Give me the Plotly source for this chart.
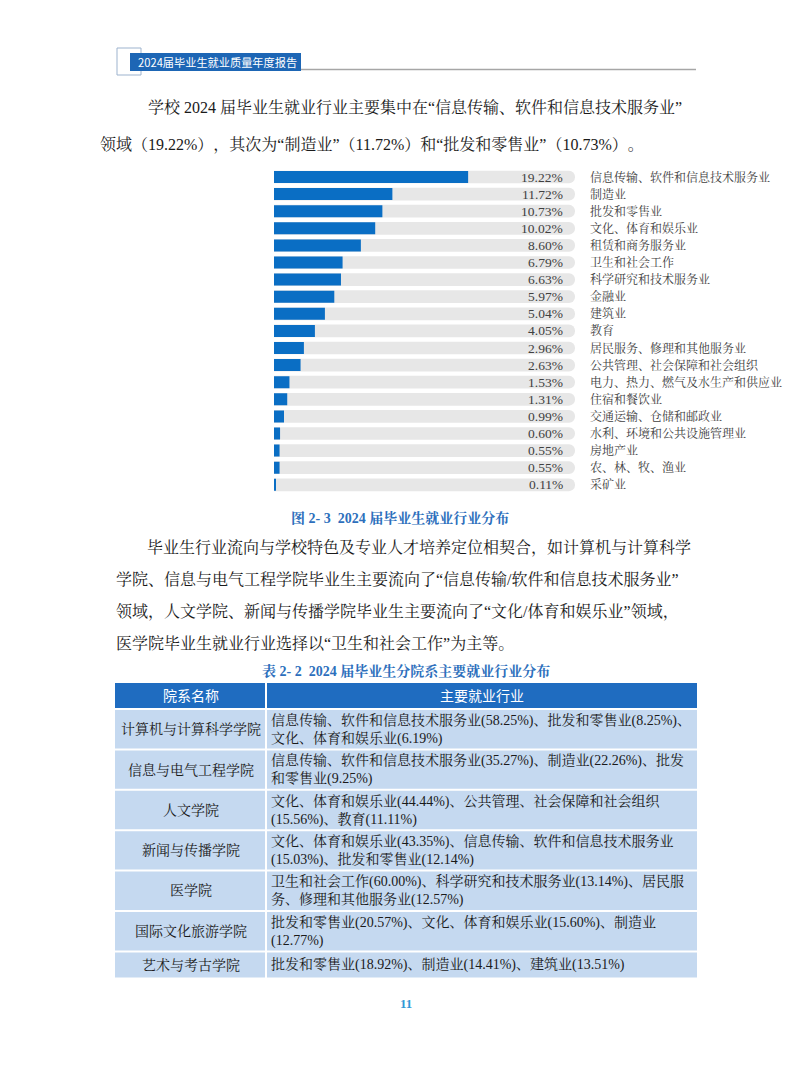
import plotly.graph_objects as go

W, H = 793, 1077

# ---------------- data ----------------
industries = ["信息传输、软件和信息技术服务业", "制造业", "批发和零售业", "文化、体育和娱乐业",
              "租赁和商务服务业", "卫生和社会工作", "科学研究和技术服务业", "金融业", "建筑业",
              "教育", "居民服务、修理和其他服务业", "公共管理、社会保障和社会组织",
              "电力、热力、燃气及水生产和供应业", "住宿和餐饮业", "交通运输、仓储和邮政业",
              "水利、环境和公共设施管理业", "房地产业", "农、林、牧、渔业", "采矿业"]
shares = [19.22, 11.72, 10.73, 10.02, 8.60, 6.79, 6.63, 5.97, 5.04, 4.05,
          2.96, 2.63, 1.53, 1.31, 0.99, 0.60, 0.55, 0.55, 0.11]

header_title = "2024届毕业生就业质量年度报告"
para1 = ["学校 2024 届毕业生就业行业主要集中在“信息传输、软件和信息技术服务业”",
         "领域（19.22%），其次为“制造业”（11.72%）和“批发和零售业”（10.73%）。"]
fig_caption = "图 2- 3  2024 届毕业生就业行业分布"
para2 = ["毕业生行业流向与学校特色及专业人才培养定位相契合，如计算机与计算科学",
         "学院、信息与电气工程学院毕业生主要流向了“信息传输/软件和信息技术服务业”",
         "领域，人文学院、新闻与传播学院毕业生主要流向了“文化/体育和娱乐业”领域，",
         "医学院毕业生就业行业选择以“卫生和社会工作”为主等。"]
table_caption = "表 2- 2  2024 届毕业生分院系主要就业行业分布"
table_header = ["院系名称", "主要就业行业"]
colleges = ["计算机与计算科学学院", "信息与电气工程学院", "人文学院", "新闻与传播学院",
            "医学院", "国际文化旅游学院", "艺术与考古学院"]
college_industries = [
    ["信息传输、软件和信息技术服务业(58.25%)、批发和零售业(8.25%)、", "文化、体育和娱乐业(6.19%)"],
    ["信息传输、软件和信息技术服务业(35.27%)、制造业(22.26%)、批发", "和零售业(9.25%)"],
    ["文化、体育和娱乐业(44.44%)、公共管理、社会保障和社会组织", "(15.56%)、教育(11.11%)"],
    ["文化、体育和娱乐业(43.35%)、信息传输、软件和信息技术服务业", "(15.03%)、批发和零售业(12.14%)"],
    ["卫生和社会工作(60.00%)、科学研究和技术服务业(13.14%)、居民服", "务、修理和其他服务业(12.57%)"],
    ["批发和零售业(20.57%)、文化、体育和娱乐业(15.60%)、制造业", "(12.77%)"],
    ["批发和零售业(18.92%)、制造业(14.41%)、建筑业(13.51%)"],
]
page_number = "11"

# ---------------- styling ----------------
SERIF = "Liberation Serif, Noto Serif CJK SC, Noto Sans CJK SC"
SANS = "Noto Sans CJK SC, Noto Sans, sans-serif"
BAR_BLUE = "#0A6EC4"
TRACK = "#E7E7E7"
CAP_BLUE = "#2D6FBC"
TXT = "#1a1a1a"
LBL = "#404040"


def px(x):
    return x / W


def py(y):
    return 1 - y / H


# chart geometry (pixels)
CH_LEFT, CH_RIGHT = 274, 575
ROW = 17.1
FIRST = 177
n = len(industries)
ch_top = FIRST - ROW / 2
ch_bot = FIRST + (n - 1) * ROW + ROW / 2
XMAX = 29.8

fig = go.Figure()

fig.add_trace(go.Bar(
    y=industries, x=[XMAX] * n, orientation="h",
    marker=dict(color=TRACK, cornerradius=6, line=dict(width=0)),
    width=0.74, hoverinfo="skip",
))
fig.add_trace(go.Bar(
    y=industries, x=shares, orientation="h",
    marker=dict(color=BAR_BLUE, line=dict(width=0)),
    width=0.70, hoverinfo="skip",
))

ann = []
shapes = []

# value labels
for cat, v in zip(industries, shares):
    ann.append(dict(x=(565 - CH_LEFT) / (CH_RIGHT - CH_LEFT) * XMAX, y=cat, xref="x", yref="y",
                    text=f"{v:.2f}%", showarrow=False, xanchor="right", yanchor="middle",
                    font=dict(family=SERIF, size=13.5, color=LBL)))

# category labels to the right of the bars
for cat in industries:
    ann.append(dict(x=px(588), y=cat, xref="paper", yref="y",
                    text=cat, showarrow=False, xanchor="left", yanchor="middle",
                    font=dict(family=SERIF, size=12, color=LBL)))

# header
shapes.append(dict(type="rect", xref="paper", yref="paper", x0=px(117), x1=px(141), y0=py(48), y1=py(75),
                   line=dict(color="#9DB3CE", width=1), fillcolor="rgba(0,0,0,0)"))
shapes.append(dict(type="line", xref="paper", yref="paper", x0=px(300), x1=px(696), y0=py(69.5), y1=py(69.5),
                   line=dict(color="#A6A6A6", width=1.6)))
shapes.append(dict(type="rect", xref="paper", yref="paper", x0=px(130), x1=px(301), y0=py(53), y1=py(71),
                   line=dict(width=0), fillcolor="#1D66B5"))
ann.append(dict(x=px(136), y=py(62), xref="paper", yref="paper", text=header_title, showarrow=False,
                xanchor="left", yanchor="middle", font=dict(family=SANS, size=11.2, color="white")))

# paragraph 1
for (x0, y0), s in zip([(146, 107), (114, 145)], para1):
    ann.append(dict(x=px(x0), y=py(y0), xref="paper", yref="paper", text=s, showarrow=False,
                    xanchor="left", yanchor="middle", font=dict(family=SERIF, size=16, color=TXT)))

# figure caption
ann.append(dict(x=px(400), y=py(518), xref="paper", yref="paper", text=f"<b>{fig_caption}</b>",
                showarrow=False, xanchor="center", yanchor="middle",
                font=dict(family=SERIF, size=14, color=CAP_BLUE)))

# paragraph 2
for j, s in enumerate(para2):
    x0 = 145 if j == 0 else 114
    ann.append(dict(x=px(x0), y=py(547 + j * 32.3), xref="paper", yref="paper", text=s, showarrow=False,
                    xanchor="left", yanchor="middle", font=dict(family=SERIF, size=16, color=TXT)))

# table caption
ann.append(dict(x=px(406), y=py(671), xref="paper", yref="paper", text=f"<b>{table_caption}</b>",
                showarrow=False, xanchor="center", yanchor="middle",
                font=dict(family=SERIF, size=14, color=CAP_BLUE)))

# table
T_L, T_M, T_R = 115, 266, 697
GAP = 2
HEAD_BLUE = "#1F6CC0"
BODY_BLUE = "#C5D9F0"
top = 683
hh = 25
shapes.append(dict(type="rect", xref="paper", yref="paper", x0=px(T_L), x1=px(T_M - GAP / 2),
                   y0=py(top), y1=py(top + hh), line=dict(width=0), fillcolor=HEAD_BLUE))
shapes.append(dict(type="rect", xref="paper", yref="paper", x0=px(T_M + GAP / 2), x1=px(T_R),
                   y0=py(top), y1=py(top + hh), line=dict(width=0), fillcolor=HEAD_BLUE))
ann.append(dict(x=px((T_L + T_M) / 2), y=py(top + hh / 2), xref="paper", yref="paper", text=table_header[0],
                showarrow=False, xanchor="center", yanchor="middle",
                font=dict(family=SANS, size=14, color="white")))
ann.append(dict(x=px((T_M + T_R) / 2), y=py(top + hh / 2), xref="paper", yref="paper", text=table_header[1],
                showarrow=False, xanchor="center", yanchor="middle",
                font=dict(family=SANS, size=14, color="white")))
y = top + hh + GAP
for name, lines in zip(colleges, college_industries):
    h = 38.4 if len(lines) > 1 else 25
    shapes.append(dict(type="rect", xref="paper", yref="paper", x0=px(T_L), x1=px(T_M - GAP / 2),
                       y0=py(y), y1=py(y + h), line=dict(width=0), fillcolor=BODY_BLUE))
    shapes.append(dict(type="rect", xref="paper", yref="paper", x0=px(T_M + GAP / 2), x1=px(T_R),
                       y0=py(y), y1=py(y + h), line=dict(width=0), fillcolor=BODY_BLUE))
    ann.append(dict(x=px((T_L + T_M) / 2), y=py(y + h / 2), xref="paper", yref="paper", text=name,
                    showarrow=False, xanchor="center", yanchor="middle",
                    font=dict(family=SERIF, size=14, color=TXT)))
    ann.append(dict(x=px(269), y=py(y + h / 2), xref="paper", yref="paper", text="<br>".join(lines),
                    showarrow=False, xanchor="left", yanchor="middle", align="left",
                    font=dict(family=SERIF, size=14, color=TXT)))
    y += h + GAP

# page number
ann.append(dict(x=px(406), y=py(1003), xref="paper", yref="paper", text=f"<b>{page_number}</b>",
                showarrow=False, xanchor="center", yanchor="middle",
                font=dict(family=SERIF, size=13, color="#3399D6")))

fig.update_layout(
    width=W, height=H, margin=dict(l=0, r=0, t=0, b=0),
    paper_bgcolor="white", plot_bgcolor="white",
    barmode="overlay", showlegend=False,
    xaxis=dict(domain=[px(CH_LEFT), px(CH_RIGHT)], range=[0, XMAX], visible=False, fixedrange=True),
    yaxis=dict(domain=[py(ch_bot), py(ch_top)], type="category", categoryorder="array",
               categoryarray=industries, range=[n - 0.5, -0.5], visible=False, fixedrange=True),
    annotations=ann, shapes=shapes,
)

# keep full-width CJK punctuation untrimmed, as in the printed page
post = ("var s=document.createElement('style');"
        "s.textContent='text,tspan{text-spacing-trim:space-all;}';"
        "document.head.appendChild(s);")
fig.write_html("out.html", config={"displayModeBar": False}, post_script=post)
